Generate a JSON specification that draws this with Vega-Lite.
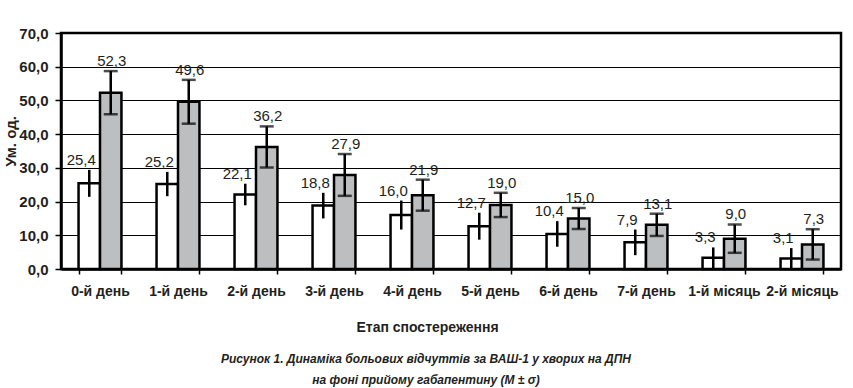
{
  "$schema": "https://vega.github.io/schema/vega-lite/v6.json",
  "width": 780,
  "height": 236,
  "autosize": {"type": "none"},
  "padding": {"left": 61, "top": 33, "right": 12, "bottom": 119},
  "config": {
    "locale": {"number": {"decimal": ",", "thousands": " ", "grouping": [3], "currency": ["", ""]}},
    "view": {"stroke": "black", "strokeWidth": 2.5},
    "font": "Liberation Sans",
    "axisY": {
      "tickCount": 7,
      "labelOverlap": false,
      "format": ".1f",
      "labelFont": "Liberation Sans",
      "labelFontSize": 15,
      "labelFontWeight": "bold",
      "labelColor": "#231f20",
      "labelPadding": 7,
      "tickColor": "black",
      "tickSize": 6,
      "tickWidth": 1.5,
      "domainColor": "black",
      "domainWidth": 2.5,
      "grid": true,
      "gridColor": "black",
      "gridWidth": 1,
      "gridOpacity": 1,
      "titleFont": "Liberation Sans",
      "titleFontSize": 15,
      "titleFontWeight": "bold",
      "titleColor": "#231f20",
      "titleX": -51,
      "titleY": 108,
      "titleBaseline": "middle"
    }
  },
  "title": {
    "text": ["Рисунок 1. Динаміка больових відчуттів за ВАШ-1 у хворих на ДПН", "на фоні прийому габапентину (M ± σ)"],
    "orient": "bottom",
    "anchor": "middle",
    "dx": -25,
    "offset": 20,
    "font": "Liberation Sans",
    "fontSize": 12,
    "fontStyle": "italic",
    "fontWeight": "bold",
    "lineHeight": 21,
    "color": "#231f20"
  },
  "data": {
    "values": [
      {"stage": "0-й день", "group": "A", "value": 25.4, "lo": 21.4, "hi": 29.4},
      {"stage": "0-й день", "group": "B", "value": 52.3, "lo": 45.9, "hi": 58.7},
      {"stage": "1-й день", "group": "A", "value": 25.2, "lo": 21.6, "hi": 28.8},
      {"stage": "1-й день", "group": "B", "value": 49.6, "lo": 43.1, "hi": 56.1},
      {"stage": "2-й день", "group": "A", "value": 22.1, "lo": 18.9, "hi": 25.3},
      {"stage": "2-й день", "group": "B", "value": 36.2, "lo": 30.1, "hi": 42.3},
      {"stage": "3-й день", "group": "A", "value": 18.8, "lo": 15.0, "hi": 22.6},
      {"stage": "3-й день", "group": "B", "value": 27.9, "lo": 21.7, "hi": 34.1},
      {"stage": "4-й день", "group": "A", "value": 16.0, "lo": 11.7, "hi": 20.3},
      {"stage": "4-й день", "group": "B", "value": 21.9, "lo": 17.3, "hi": 26.5},
      {"stage": "5-й день", "group": "A", "value": 12.7, "lo": 8.7, "hi": 16.7},
      {"stage": "5-й день", "group": "B", "value": 19.0, "lo": 15.4, "hi": 22.6},
      {"stage": "6-й день", "group": "A", "value": 10.4, "lo": 6.6, "hi": 14.2},
      {"stage": "6-й день", "group": "B", "value": 15.0, "lo": 11.9, "hi": 18.1},
      {"stage": "7-й день", "group": "A", "value": 7.9, "lo": 4.1, "hi": 11.7},
      {"stage": "7-й день", "group": "B", "value": 13.1, "lo": 9.8, "hi": 16.4},
      {"stage": "1-й місяць", "group": "A", "value": 3.3, "lo": 0.2, "hi": 6.4},
      {"stage": "1-й місяць", "group": "B", "value": 9.0, "lo": 4.8, "hi": 13.2},
      {"stage": "2-й місяць", "group": "A", "value": 3.1, "lo": 0.0, "hi": 6.2},
      {"stage": "2-й місяць", "group": "B", "value": 7.3, "lo": 2.8, "hi": 11.8}
    ]
  },
  "encoding": {
    "x": {
      "field": "stage",
      "type": "nominal",
      "sort": null,
      "scale": {"paddingInner": 0.45, "paddingOuter": 0.225},
      "axis": {
        "title": "Етап спостереження",
        "titleFont": "Liberation Sans",
        "titleFontSize": 14,
        "titleFontWeight": "bold",
        "titleColor": "#231f20",
        "titleX": 366,
        "titleY": 58,
        "titleBaseline": "middle",
        "labelAngle": 0,
        "labelFont": "Liberation Sans",
        "labelFontSize": 14,
        "labelFontWeight": "bold",
        "labelColor": "#231f20",
        "labelPadding": 10,
        "labelDx": 4,
        "labelOverlap": false,
        "tickBand": "extent",
        "tickColor": "black",
        "tickSize": 5,
        "tickWidth": 1.5,
        "domainColor": "black",
        "domainWidth": 2.5
      }
    },
    "xOffset": {"field": "group", "type": "nominal", "scale": {"paddingInner": 0, "paddingOuter": 0}}
  },
  "layer": [
    {
      "mark": {"type": "bar", "stroke": "black", "strokeWidth": 2.5},
      "encoding": {
        "y": {
          "field": "value",
          "type": "quantitative",
          "scale": {"domain": [0, 70], "nice": false},
          "title": "Ум. од."
        },
        "fill": {
          "field": "group",
          "type": "nominal",
          "scale": {"domain": ["A", "B"], "range": ["#ffffff", "#bdbec0"]},
          "legend": null
        }
      }
    },
    {
      "mark": {"type": "rule", "stroke": "black", "strokeWidth": 2.5},
      "encoding": {
        "y": {"field": "lo", "type": "quantitative", "title": "Ум. од."},
        "y2": {"field": "hi"}
      }
    },
    {
      "transform": [{"filter": "datum.group == 'B'"}],
      "mark": {"type": "tick", "color": "black", "size": 14, "thickness": 2.5, "orient": "horizontal"},
      "encoding": {"y": {"field": "lo", "type": "quantitative", "title": "Ум. од."}}
    },
    {
      "transform": [{"filter": "datum.group == 'B'"}],
      "mark": {"type": "tick", "color": "black", "size": 14, "thickness": 2.5, "orient": "horizontal"},
      "encoding": {"y": {"field": "hi", "type": "quantitative", "title": "Ум. од."}}
    },
    {
      "transform": [{"filter": "datum.group == 'A'"}],
      "mark": {"type": "text", "baseline": "alphabetic", "dy": -5, "dx": -8, "fontSize": 15, "color": "#231f20", "font": "Liberation Sans"},
      "encoding": {
        "y": {"field": "hi", "type": "quantitative", "title": "Ум. од."},
        "text": {"field": "value", "type": "quantitative", "format": ".1f"}
      }
    },
    {
      "transform": [{"filter": "datum.group == 'B'"}],
      "mark": {"type": "text", "baseline": "alphabetic", "dy": -5, "dx": 1, "fontSize": 15, "color": "#231f20", "font": "Liberation Sans"},
      "encoding": {
        "y": {"field": "hi", "type": "quantitative", "title": "Ум. од."},
        "text": {"field": "value", "type": "quantitative", "format": ".1f"}
      }
    }
  ]
}
